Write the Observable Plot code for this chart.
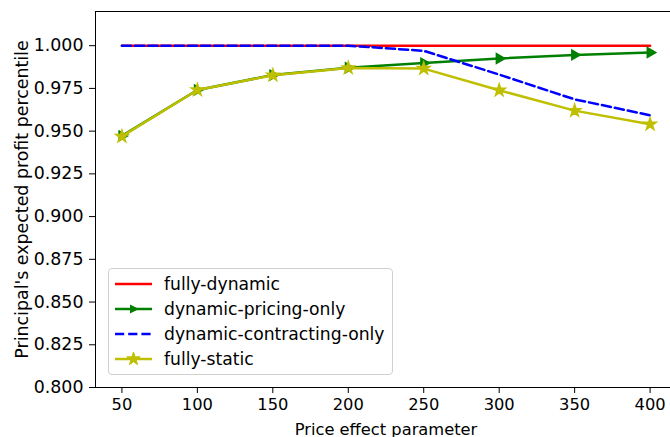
<!DOCTYPE html>
<html>
<head>
<meta charset="utf-8">
<script src="https://cdn.jsdelivr.net/npm/d3@7"></script>
<script src="https://cdn.jsdelivr.net/npm/@observablehq/plot@0.6"></script>
<style>
  html, body { margin: 0; padding: 0; background: #fff; }
  #wrap { position: relative; width: 670px; height: 437px; overflow: hidden; font-family: "DejaVu Sans", sans-serif; }
  #legend { position: absolute; left: 108px; top: 268px; width: 285px; height: 107px; box-sizing: border-box;
    border: 1px solid #d0d0d0; border-radius: 4px; background: rgba(255,255,255,0.8); }
  .item { position: absolute; left: 5px; height: 20px; display: flex; align-items: center; font-size: 17.2px; color: #000; white-space: nowrap; }
  .item svg { width: 40px; height: 20px; margin-right: 10px; }
</style>
</head>
<body>
<div id="wrap"><div id="legend"></div></div>
<script>
const priceEffect = [50, 100, 150, 200, 250, 300, 350, 400];
const fullyDynamic = [1.0, 1.0, 1.0, 1.0, 1.0, 1.0, 1.0, 1.0];
const dynamicPricingOnly = [0.9472, 0.9741, 0.9828, 0.9871, 0.9898, 0.9925, 0.9946, 0.9960];
const dynamicContractingOnly = [1.0, 1.0, 1.0, 1.0, 0.9970, 0.9831, 0.9686, 0.9593];
const fullyStatic = [0.9469, 0.9741, 0.9827, 0.9870, 0.9866, 0.9739, 0.9620, 0.9540];
const yTicks = [0.800, 0.825, 0.850, 0.875, 0.900, 0.925, 0.950, 0.975, 1.000];
const xTicks = [50, 100, 150, 200, 250, 300, 350, 400];
const seriesNames = ["fully-dynamic", "dynamic-pricing-only", "dynamic-contracting-only", "fully-static"];
const seriesColors = ["#ff0000", "#008000", "#0000ff", "#bfbf00"];

const toRows = (vals) => priceEffect.map((x, i) => ({x, y: vals[i]}));
const rd = toRows(fullyDynamic), rp = toRows(dynamicPricingOnly),
      rc = toRows(dynamicContractingOnly), rs = toRows(fullyStatic);

const LW = 2.5, DASH = "9.2,4";
const chart = Plot.plot({
  width: 670, height: 437,
  marginLeft: 95, marginRight: -6, marginTop: 11, marginBottom: 50,
  style: {fontFamily: "DejaVu Sans, sans-serif", fontSize: "16.8px", color: "#000", background: "transparent"},
  x: {domain: [32.5, 417.5]},
  y: {domain: [0.8, 1.02]},
  marks: [
    Plot.axisX({ticks: xTicks, tickSize: 6, tickPadding: 5, tickFormat: d => String(d), fontSize: 16.3,
      label: "Price effect parameter", labelAnchor: "center", labelArrow: "none", labelOffset: 47}),
    Plot.axisY({ticks: yTicks, tickSize: 6, tickPadding: 6, tickFormat: d3.format(".3f"), fontSize: 17.4,
      label: "Principal's expected profit percentile", labelAnchor: "center", labelArrow: "none", labelOffset: 80}),
    Plot.line(rd, {x: "x", y: "y", stroke: seriesColors[0], strokeWidth: LW}),
    Plot.line(rp, {x: "x", y: "y", stroke: seriesColors[1], strokeWidth: LW}),
    Plot.dot(rp, {x: "x", y: "y", symbol: "triangle", rotate: 90, r: 3.6, fill: seriesColors[1], stroke: seriesColors[1]}),
    Plot.line(rc, {x: "x", y: "y", stroke: seriesColors[2], strokeWidth: LW, strokeDasharray: DASH}),
    Plot.line(rs, {x: "x", y: "y", stroke: seriesColors[3], strokeWidth: LW}),
    Plot.dot(rs, {x: "x", y: "y", symbol: "star", r: 3.8, fill: seriesColors[3], stroke: seriesColors[3]}),
    Plot.frame({stroke: "#000", strokeWidth: 1})
  ]
});
const wrap = document.getElementById("wrap");
wrap.insertBefore(chart, wrap.firstChild);

const legend = document.getElementById("legend");
seriesNames.forEach((name, i) => {
  const div = document.createElement("div");
  div.className = "item";
  div.style.top = (5 + i * 25) + "px";
  const c = seriesColors[i];
  let marker = "";
  if (i === 1) marker = `<path d="M16,5.5 L25,10 L16,14.5 Z" fill="${c}"/>`;
  if (i === 3) {
    const s = d3.symbol(d3.symbolStar, 55)();
    marker = `<path transform="translate(19.5,10)" d="${s}" fill="${c}" stroke="${c}"/>`;
  }
  const dash = i === 2 ? ` stroke-dasharray="${DASH}"` : "";
  div.innerHTML = `<svg viewBox="0 0 40 20"><line x1="1" y1="10" x2="38" y2="10" stroke="${c}" stroke-width="${LW}"${dash}/>${marker}</svg><span>${name}</span>`;
  legend.appendChild(div);
});
</script>
</body>
</html>
